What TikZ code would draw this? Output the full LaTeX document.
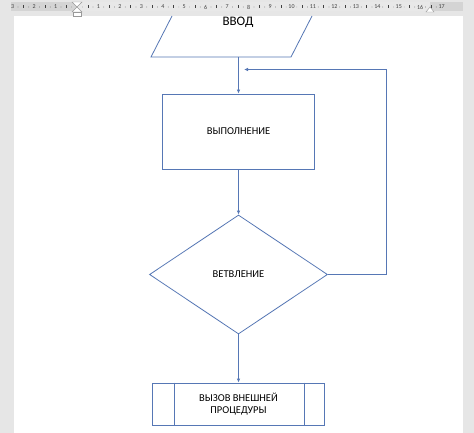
\documentclass[tikz,border=0pt]{standalone}
\usepackage{fontspec}
\setmainfont{Carlito}
\usetikzlibrary{shapes.geometric,arrows.meta}
\definecolor{ln}{HTML}{5677B5}
\definecolor{bg}{HTML}{E6E6E6}
\definecolor{rulm}{HTML}{D4D4D4}
\definecolor{rulc}{HTML}{E8E8E8}
\definecolor{rtxt}{HTML}{404040}
\begin{document}
\begin{tikzpicture}[x=1pt,y=-1pt,
  flow/.style={draw=ln, line width=0.8pt},
  conn/.style={draw=ln, line width=0.8pt, -{Latex[length=4pt,width=3.5pt]}},
  lbl/.style={font=\fontsize{10.5}{12}\selectfont, text=black, align=center},
  marker/.style={draw=gray!80, fill=white, line width=0.4pt}]
\useasboundingbox (0,0) rectangle (474,433);
\fill[bg] (0,0) rectangle (474,433);
\fill[white] (14,16) rectangle (463,433);
% ruler
\fill[rulm] (11,2.5) rectangle (463,11.5);
\fill[rulc] (77,2.5) rectangle (430,11.5);
\foreach \k in {-3,...,17}{
  \pgfmathsetmacro\xx{77+\k*21.45}
  \pgfmathtruncatemacro\aa{abs(\k)}
  \ifnum\k=0\relax\else
    \node[font=\fontsize{6}{6}\selectfont, text=rtxt, inner sep=0] at (\xx,7) {\aa};
  \fi
}
\foreach \k in {-3,...,16}{
  \pgfmathsetmacro\qa{77+\k*21.45+5.36}
  \pgfmathsetmacro\qb{77+\k*21.45+10.72}
  \pgfmathsetmacro\qc{77+\k*21.45+16.09}
  \fill[rtxt] (\qa,7) circle (0.35pt);
  \fill[rtxt] (\qc,7) circle (0.35pt);
  \draw[rtxt, line width=0.35pt] (\qb,5.5) -- (\qb,8.5);
}
\draw[marker] (72,2) -- (82,2) -- (77,7) -- cycle;
\draw[marker] (77,7) -- (72,12) -- (82,12) -- cycle;
\draw[marker] (73,12) rectangle (81,16);
\draw[marker] (430,7) -- (426,12) -- (434,12) -- cycle;
% input parallelogram (cut by the page top)
\draw[flow] (172,16) -- (151,57) -- (291,57) -- (312,16);
\node[font=\fontsize{13}{15}\selectfont, inner sep=0] (in) at (238,22) {ВВОД};
\coordinate (inb) at (238.5,57);
% process
\node[flow, rectangle, minimum width=152pt, minimum height=75pt, inner sep=0, lbl] (exec) at (238.5,131.5) {ВЫПОЛНЕНИЕ};
% decision
\node[flow, diamond, minimum width=178pt, minimum height=119pt, inner sep=0, lbl] (br) at (238.5,274.5) {ВЕТВЛЕНИЕ};
% predefined process
\node[flow, rectangle, minimum width=172pt, minimum height=42pt, inner sep=0, lbl] (call) at (238.5,404) {ВЫЗОВ ВНЕШНЕЙ\\ПРОЦЕДУРЫ};
\draw[flow] ([xshift=22pt]call.north west) -- ([xshift=22pt]call.south west);
\draw[flow] ([xshift=-21pt]call.north east) -- ([xshift=-21pt]call.south east);
% connectors
\draw[conn] (inb) -- (exec.north);
\draw[conn] (exec.south) -- (br.north);
\draw[conn] (br.south) -- (call.north);
\coordinate (fb) at (386,69.5);
\coordinate (fbend) at (244,69.5);
\draw[conn] (br.east) -| (fb) -- (fbend);
\end{tikzpicture}
\end{document}
